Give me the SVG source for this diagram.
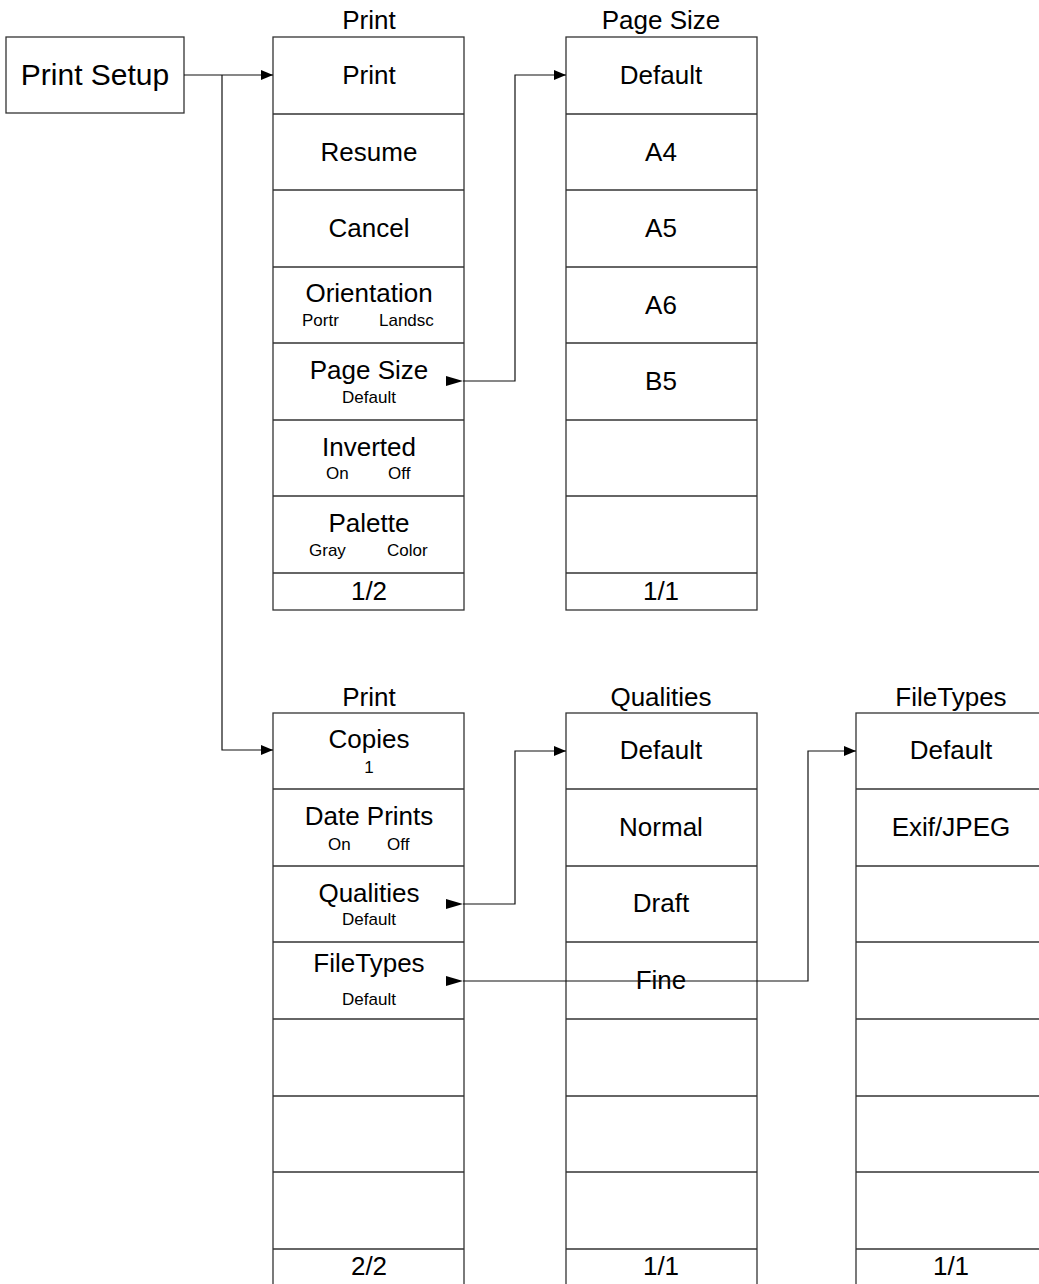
<svg xmlns="http://www.w3.org/2000/svg" width="1039" height="1284" viewBox="0 0 1039 1284">
<style>
.box{fill:#fff;stroke:#333;stroke-width:1.3}
.ln{stroke:#333;stroke-width:1.3}
.con{fill:none;stroke:#111;stroke-width:1.2}
text{font-family:"Liberation Sans",Arial,sans-serif;fill:#000}
.t{font-size:26px;text-anchor:middle}
.s{font-size:17px}
.sm{font-size:17px;text-anchor:middle}
.big{font-size:30px;text-anchor:middle}
</style>
<defs>
<marker id="ah" viewBox="0 0 12 10" refX="12" refY="5" markerWidth="12" markerHeight="10" markerUnits="userSpaceOnUse" orient="auto">
<path d="M0,0 L12,5 L0,10 Z" fill="#000"/>
</marker>
</defs>

<g id="print-setup">
<rect class="box" x="6" y="37" width="178" height="76"/>
<text class="big" x="95" y="85">Print Setup</text>
</g>

<g id="print-menu-1">
<text class="t" x="369" y="29">Print</text>
<rect class="box" x="273" y="37" width="191" height="573"/>
<line class="ln" x1="273" y1="114" x2="464" y2="114"/>
<line class="ln" x1="273" y1="190" x2="464" y2="190"/>
<line class="ln" x1="273" y1="267" x2="464" y2="267"/>
<line class="ln" x1="273" y1="343" x2="464" y2="343"/>
<line class="ln" x1="273" y1="420" x2="464" y2="420"/>
<line class="ln" x1="273" y1="496" x2="464" y2="496"/>
<line class="ln" x1="273" y1="573" x2="464" y2="573"/>
<text class="t" x="369" y="84">Print</text>
<text class="t" x="369" y="161">Resume</text>
<text class="t" x="369" y="237">Cancel</text>
<text class="t" x="369" y="302">Orientation</text>
<text class="s" x="302" y="326">Portr</text>
<text class="s" x="379" y="326">Landsc</text>
<text class="t" x="369" y="379">Page Size</text>
<text class="sm" x="369" y="403">Default</text>
<text class="t" x="369" y="456">Inverted</text>
<text class="s" x="326" y="479">On</text>
<text class="s" x="388" y="479">Off</text>
<text class="t" x="369" y="532">Palette</text>
<text class="s" x="309" y="556">Gray</text>
<text class="s" x="387" y="556">Color</text>
<text class="t" x="369" y="600">1/2</text>
</g>

<g id="page-size-menu">
<text class="t" x="661" y="29">Page Size</text>
<rect class="box" x="566" y="37" width="191" height="573"/>
<line class="ln" x1="566" y1="114" x2="757" y2="114"/>
<line class="ln" x1="566" y1="190" x2="757" y2="190"/>
<line class="ln" x1="566" y1="267" x2="757" y2="267"/>
<line class="ln" x1="566" y1="343" x2="757" y2="343"/>
<line class="ln" x1="566" y1="420" x2="757" y2="420"/>
<line class="ln" x1="566" y1="496" x2="757" y2="496"/>
<line class="ln" x1="566" y1="573" x2="757" y2="573"/>
<text class="t" x="661" y="84">Default</text>
<text class="t" x="661" y="161">A4</text>
<text class="t" x="661" y="237">A5</text>
<text class="t" x="661" y="314">A6</text>
<text class="t" x="661" y="390">B5</text>
<text class="t" x="661" y="600">1/1</text>
</g>

<g id="print-menu-2">
<text class="t" x="369" y="706">Print</text>
<rect class="box" x="273" y="713" width="191" height="580"/>
<line class="ln" x1="273" y1="789" x2="464" y2="789"/>
<line class="ln" x1="273" y1="866" x2="464" y2="866"/>
<line class="ln" x1="273" y1="942" x2="464" y2="942"/>
<line class="ln" x1="273" y1="1019" x2="464" y2="1019"/>
<line class="ln" x1="273" y1="1096" x2="464" y2="1096"/>
<line class="ln" x1="273" y1="1172" x2="464" y2="1172"/>
<line class="ln" x1="273" y1="1249" x2="464" y2="1249"/>
<text class="t" x="369" y="748">Copies</text>
<text class="sm" x="369" y="773">1</text>
<text class="t" x="369" y="825">Date Prints</text>
<text class="s" x="328" y="850">On</text>
<text class="s" x="387" y="850">Off</text>
<text class="t" x="369" y="902">Qualities</text>
<text class="sm" x="369" y="925">Default</text>
<text class="t" x="369" y="972">FileTypes</text>
<text class="sm" x="369" y="1005">Default</text>
<text class="t" x="369" y="1275">2/2</text>
</g>

<g id="qualities-menu">
<text class="t" x="661" y="706">Qualities</text>
<rect class="box" x="566" y="713" width="191" height="580"/>
<line class="ln" x1="566" y1="789" x2="757" y2="789"/>
<line class="ln" x1="566" y1="866" x2="757" y2="866"/>
<line class="ln" x1="566" y1="942" x2="757" y2="942"/>
<line class="ln" x1="566" y1="1019" x2="757" y2="1019"/>
<line class="ln" x1="566" y1="1096" x2="757" y2="1096"/>
<line class="ln" x1="566" y1="1172" x2="757" y2="1172"/>
<line class="ln" x1="566" y1="1249" x2="757" y2="1249"/>
<text class="t" x="661" y="759">Default</text>
<text class="t" x="661" y="836">Normal</text>
<text class="t" x="661" y="912">Draft</text>
<text class="t" x="661" y="989">Fine</text>
<text class="t" x="661" y="1275">1/1</text>
</g>

<g id="filetypes-menu">
<text class="t" x="951" y="706">FileTypes</text>
<rect class="box" x="856" y="713" width="191" height="580"/>
<line class="ln" x1="856" y1="789" x2="1047" y2="789"/>
<line class="ln" x1="856" y1="866" x2="1047" y2="866"/>
<line class="ln" x1="856" y1="942" x2="1047" y2="942"/>
<line class="ln" x1="856" y1="1019" x2="1047" y2="1019"/>
<line class="ln" x1="856" y1="1096" x2="1047" y2="1096"/>
<line class="ln" x1="856" y1="1172" x2="1047" y2="1172"/>
<line class="ln" x1="856" y1="1249" x2="1047" y2="1249"/>
<text class="t" x="951" y="759">Default</text>
<text class="t" x="951" y="836">Exif/JPEG</text>
<text class="t" x="951" y="1275">1/1</text>
</g>

<g id="connectors">
<path class="con" d="M184,75 H273" marker-end="url(#ah)"/>
<path class="con" d="M222,75 V750 H273" marker-end="url(#ah)"/>
<path class="con" d="M463,381 H515 V75 H566" marker-end="url(#ah)"/>
<polygon points="446,376 463,381 446,386" fill="#000"/>
<path class="con" d="M463,904 H515 V751 H566" marker-end="url(#ah)"/>
<polygon points="446,899 463,904 446,909" fill="#000"/>
<path class="con" d="M463,981 H808 V751 H856" marker-end="url(#ah)"/>
<polygon points="446,976 463,981 446,986" fill="#000"/>
</g>
</svg>
